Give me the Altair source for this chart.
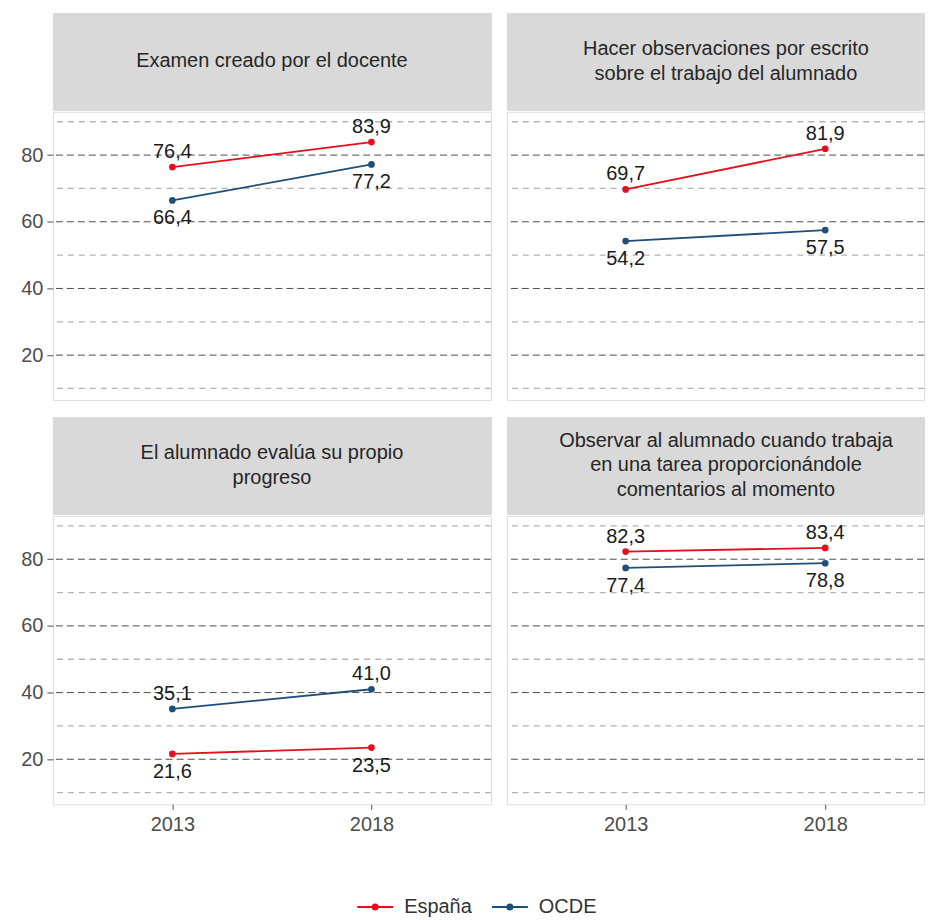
import altair as alt
import pandas as pd

# ---- data ----
panels = [
    "Examen creado por el docente",
    "Hacer observaciones por escrito\nsobre el trabajo del alumnado",
    "El alumnado evalúa su propio\nprogreso",
    "Observar al alumnado cuando trabaja\nen una tarea proporcionándole\ncomentarios al momento",
]
years = ["2013", "2018"]
series = ["España", "OCDE"]
espana = [[76.4, 83.9], [69.7, 81.9], [21.6, 23.5], [82.3, 83.4]]
ocde = [[66.4, 77.2], [54.2, 57.5], [35.1, 41.0], [77.4, 78.8]]
major_ticks = [20, 40, 60, 80]
minor_ticks = [10, 30, 50, 70, 90]

colors = ["#e3101c", "#1f4e79"]
y_domain = [6.5, 93]

rows = []
for p in range(len(panels)):
    for j, yr in enumerate(years):
        e, o = espana[p][j], ocde[p][j]
        for s, v, other in ((series[0], e, o), (series[1], o, e)):
            rows.append({
                "panel": p, "serie": s, "year": yr, "value": v,
                "label": f"{v:.1f}".replace(".", ","),
                "above": bool(v >= other),
            })
df = pd.DataFrame(rows)

FONT = "Liberation Sans"
STRIP_H = 97
PLOT_H = 289
W_LEFT = 439
W_RIGHT = 418
LINE_H = 25
sym_path = "M-1,0H1M-0.14,0A0.14,0.14,0,1,1,0.14,0A0.14,0.14,0,1,1,-0.14,0Z"


def panel(i, w, left, bottom, pad, align):
    d = df[df.panel == i]
    xs = alt.Scale(type="point", padding=pad, align=align)
    ys = alt.Scale(domain=y_domain, nice=False, zero=False)
    xaxis = alt.Axis(labelFontSize=20, labelColor="#4d4d4d", tickColor="#4d4d4d",
                     tickSize=5, labelPadding=5, domain=False, labelAngle=0,
                     grid=False, title=None, labelFont=FONT) if bottom else None
    yaxis = alt.Axis(values=major_ticks, labelFontSize=20, labelColor="#4d4d4d",
                     tickColor="#4d4d4d", tickSize=6, labelPadding=4, domain=False,
                     grid=False, title=None, labelFont=FONT) if left else None
    x = alt.X("year:O", scale=xs, axis=xaxis, title=None)
    y = alt.Y("value:Q", scale=ys, axis=yaxis, title=None)

    minor = alt.Chart(pd.DataFrame({"value": minor_ticks})).mark_rule(
        color="#b3b3b3", strokeWidth=1.3, strokeDash=[6, 5]
    ).encode(y=y)
    major = alt.Chart(pd.DataFrame({"value": major_ticks})).mark_rule(
        color="#4d4d4d", strokeWidth=1, strokeDash=[7, 4]
    ).encode(y=y)

    color_leg = alt.Color(
        "serie:N", scale=alt.Scale(domain=series, range=colors),
        legend=alt.Legend(orient="none", legendX=304, legendY=877, direction="horizontal",
                          title=None, symbolType=sym_path, symbolSize=1296,
                          symbolStrokeWidth=2, labelFontSize=20, labelColor="#333333",
                          columnPadding=16, labelOffset=10, labelFont=FONT),
    )
    color_nol = alt.Color("serie:N", scale=alt.Scale(domain=series, range=colors), legend=None)

    base = alt.Chart(d)
    lines = base.mark_line(strokeWidth=1.8).encode(x=x, y=y, color=color_leg)
    pts = base.mark_circle(size=45, opacity=1).encode(x=x, y=y, color=color_nol)
    above = base.transform_filter("datum.above").mark_text(
        fontSize=20, color="#1a1a1a", baseline="middle", dy=-15, font=FONT
    ).encode(x=x, y=y, text="label:N")
    below = base.transform_filter("!datum.above").mark_text(
        fontSize=20, color="#1a1a1a", baseline="middle", dy=18, font=FONT
    ).encode(x=x, y=y, text="label:N")

    plot = alt.layer(minor, major, lines, pts, above, below).properties(width=w, height=PLOT_H)

    n_lines = panels[i].count("\n") + 1
    strip = alt.Chart(pd.DataFrame({"t": [panels[i]]})).mark_text(
        lineBreak="\n", fontSize=20, color="#262626", baseline="middle",
        lineHeight=LINE_H, font=FONT
    ).encode(
        x=alt.value(W_LEFT / 2),
        y=alt.value(STRIP_H / 2 - (n_lines - 1) * LINE_H / 2),
        text="t:N",
    ).properties(width=w, height=STRIP_H,
                 view=alt.ViewBackground(fill="#d9d9d9", stroke="#d9d9d9"))

    return alt.vconcat(strip, plot, spacing=0)


pl = 0.6
pr_pad = (W_RIGHT - 200) / 2 / 200
pr_align = 119 / (W_RIGHT - 200)

top = alt.hconcat(panel(0, W_LEFT, True, False, pl, 0.5),
                  panel(1, W_RIGHT, False, False, pr_pad, pr_align), spacing=12)
bot = alt.hconcat(panel(2, W_LEFT, True, True, pl, 0.5),
                  panel(3, W_RIGHT, False, True, pr_pad, pr_align), spacing=12)

chart = alt.vconcat(top, bot, spacing=15).properties(
    padding={"left": 12, "top": 3, "right": 0, "bottom": 0},
    background="white",
).configure_view(stroke="#a3a3a3", strokeWidth=1).configure(font=FONT)

chart.save("out.html", embed_options={"renderer": "svg", "actions": False})
